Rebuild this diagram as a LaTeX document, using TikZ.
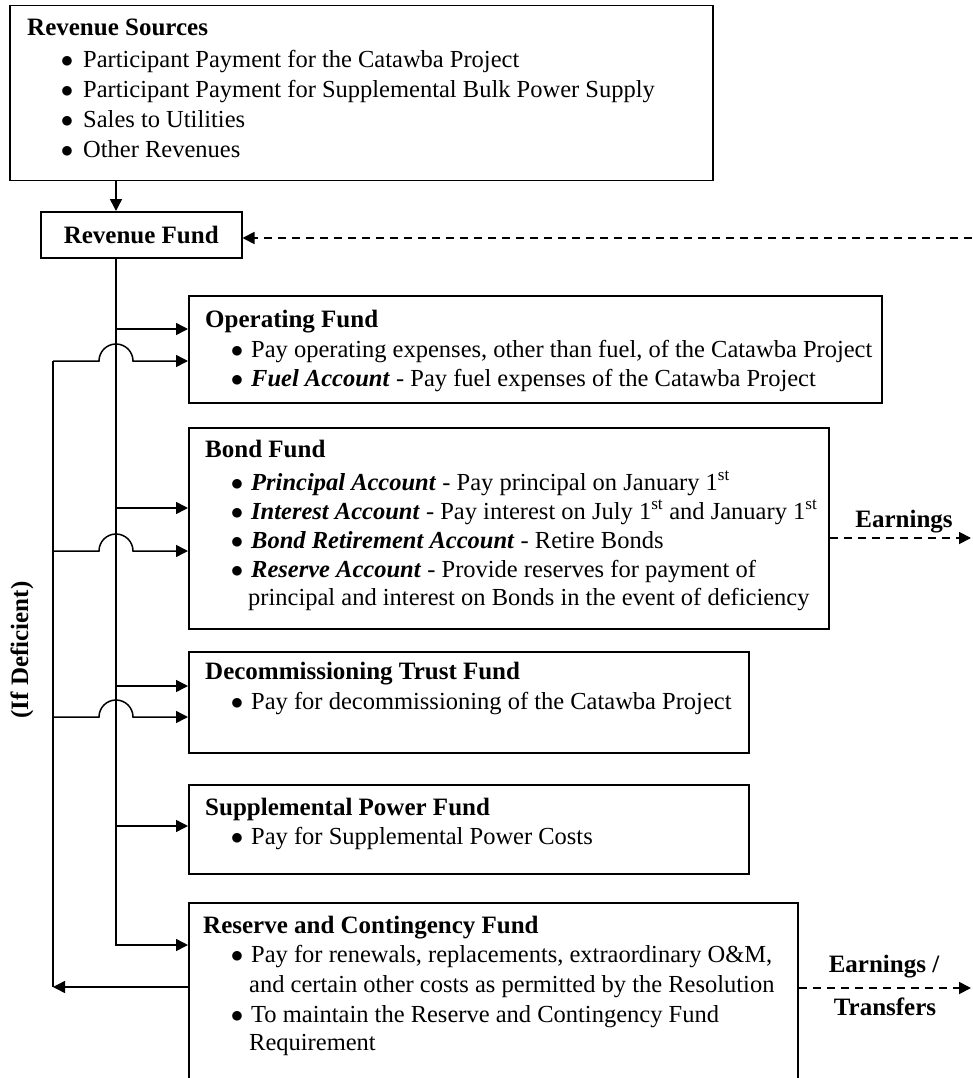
\documentclass[tikz,border=0pt]{standalone}
\usepackage{fontspec}
\setmainfont{Liberation Serif}
\usetikzlibrary{arrows.meta}
\begin{document}
\begin{tikzpicture}[x=1pt,y=-1pt,
  box/.style={draw, line width=1.5pt, inner sep=0, anchor=north west},
  txt/.style={inner sep=0, anchor=base west, font=\fontsize{24.5}{29}\selectfont},
  ttl/.style={inner sep=0, anchor=base west, font=\fontsize{25}{30}\selectfont\bfseries},
  bul/.style={inner sep=0, anchor=base, font=\fontsize{24}{29}\selectfont},
  conn/.style={line width=1.3pt},
  arr/.style={line width=1.5pt, -{Triangle[length=12pt,width=12pt]}},
  dsh/.style={line width=1.8pt, dash pattern=on 8pt off 6pt, -{Triangle[length=12pt,width=12pt]}},
]
\useasboundingbox (0,0) rectangle (972,1078);
\clip (0,0) rectangle (972,1078);

% boxes
\node[box, minimum width=703, minimum height=175] (rs) at (9,5) {};
\node[box, minimum width=201, minimum height=46, font=\fontsize{25}{30}\selectfont\bfseries] (rf) at (40,211) {Revenue Fund};
\node[box, minimum width=693, minimum height=107] (op) at (188,295) {};
\node[box, minimum width=640, minimum height=201] (bf) at (188,427) {};
\node[box, minimum width=560, minimum height=101] (dt) at (188,651) {};
\node[box, minimum width=560, minimum height=89] (sp) at (188,784) {};
\node[box, minimum width=609, minimum height=200] (rc) at (188,902) {};

% Revenue sources text
\node[ttl] (rst) at (27,36) {Revenue Sources};
\node[bul] (rsb1) at (67,68) {$\bullet$};
\node[txt] (rs1) at (83,68) {Participant Payment for the Catawba Project};
\node[bul] (rsb2) at (67,98) {$\bullet$};
\node[txt] (rs2) at (83,98) {Participant Payment for Supplemental Bulk Power Supply};
\node[bul] (rsb3) at (67,128) {$\bullet$};
\node[txt] (rs3) at (83,128) {Sales to Utilities};
\node[bul] (rsb4) at (67,158) {$\bullet$};
\node[txt] (rs4) at (83,158) {Other Revenues};

% Operating fund
\node[ttl] (opt) at (205,327) {Operating Fund};
\node[bul] (opb1) at (237,357) {$\bullet$};
\node[txt] (op1) at (251,357) {Pay operating expenses, other than fuel, of the Catawba Project};
\node[bul] (opb2) at (237,386) {$\bullet$};
\node[txt] (op2) at (251,386) {\textbf{\textit{Fuel Account}} - Pay fuel expenses of the Catawba Project};

% Bond fund
\node[ttl] (bft) at (205,457) {Bond Fund};
\node[bul] (bfb1) at (237,490) {$\bullet$};
\node[txt] (bf1) at (251,490) {\textbf{\textit{Principal Account}} - Pay principal on January 1\textsuperscript{st}};
\node[bul] (bfb2) at (237,519) {$\bullet$};
\node[txt] (bf2) at (251,519) {\textbf{\textit{Interest Account}} - Pay interest on July 1\textsuperscript{st} and January 1\textsuperscript{st}};
\node[bul] (bfb3) at (237,548) {$\bullet$};
\node[txt] (bf3) at (251,548) {\textbf{\textit{Bond Retirement Account}} - Retire Bonds};
\node[bul] (bfb4) at (237,577) {$\bullet$};
\node[txt] (bf4) at (251,577) {\textbf{\textit{Reserve Account}} - Provide reserves for payment of};
\node[txt] (bf5) at (248,605) {principal and interest on Bonds in the event of deficiency};

% Decommissioning
\node[ttl] (dtt) at (205,679) {Decommissioning Trust Fund};
\node[bul] (dtb1) at (237,709) {$\bullet$};
\node[txt] (dt1) at (251,709) {Pay for decommissioning of the Catawba Project};

% Supplemental
\node[ttl] (spt) at (205,815) {Supplemental Power Fund};
\node[bul] (spb1) at (237,844) {$\bullet$};
\node[txt] (sp1) at (251,844) {Pay for Supplemental Power Costs};

% Reserve and contingency
\node[ttl] (rct) at (203,933) {Reserve and Contingency Fund};
\node[bul] (rcb1) at (237,962) {$\bullet$};
\node[txt] (rc1) at (251,962) {Pay for renewals, replacements, extraordinary O\&M,};
\node[txt] (rc2) at (249,992) {and certain other costs as permitted by the Resolution};
\node[bul] (rcb2) at (237,1022) {$\bullet$};
\node[txt] (rc3) at (251,1022) {To maintain the Reserve and Contingency Fund};
\node[txt] (rc4) at (249,1050) {Requirement};

% side labels
\node[inner sep=0, font=\fontsize{25}{30}\selectfont\bfseries, rotate=90] (def) at (22,650) {(If Deficient)};
\node[inner sep=0, anchor=base, font=\fontsize{25}{30}\selectfont\bfseries] (earn) at (904,527) {Earnings};
\node[inner sep=0, anchor=base, font=\fontsize{25}{30}\selectfont\bfseries] (earn2) at (884,972) {Earnings /};
\node[inner sep=0, anchor=base, font=\fontsize{25}{30}\selectfont\bfseries] (trans) at (885,1015) {Transfers};

% coordinates
\coordinate (tx) at (116,0);
\coordinate (lx) at (53,0);
\coordinate (rin) at (972,238);
\coordinate (eo1) at (971,538);
\coordinate (eo2) at (971,988);

% connectors
\draw[arr] (tx |- rs.south) -- (tx |- rf.north);
\draw[arr] (tx |- rf.south) -- (tx |- 0,945) -- (rc.west |- 0,945);
\draw[conn, line width=1.5pt] (lx |- 0,361) -- (lx |- 0,987);
\draw[dsh] (rin) -- (rf.east |- rin);

% trunk branches
\draw[arr] (tx |- 0,329) -- (op.west |- 0,329);
\draw[arr] (tx |- 0,508) -- (bf.west |- 0,508);
\draw[arr] (tx |- 0,686) -- (dt.west |- 0,686);
\draw[arr] (tx |- 0,826) -- (sp.west |- 0,826);

% deficiency branches with hops
\draw[arr] (lx |- 0,361) -- (99,361) arc[start angle=180, end angle=360, radius=17] -- (op.west |- 0,361);
\draw[arr] (lx |- 0,551) -- (99,551) arc[start angle=180, end angle=360, radius=17] -- (bf.west |- 0,551);
\draw[arr] (lx |- 0,717) -- (99,717) arc[start angle=180, end angle=360, radius=17] -- (dt.west |- 0,717);
\draw[arr] (rc.west |- 0,987) -- (lx |- 0,987);

% earnings
\draw[dsh] (bf.east |- eo1) -- (eo1);
\draw[dsh] (rc.east |- eo2) -- (eo2);
\end{tikzpicture}
\end{document}
